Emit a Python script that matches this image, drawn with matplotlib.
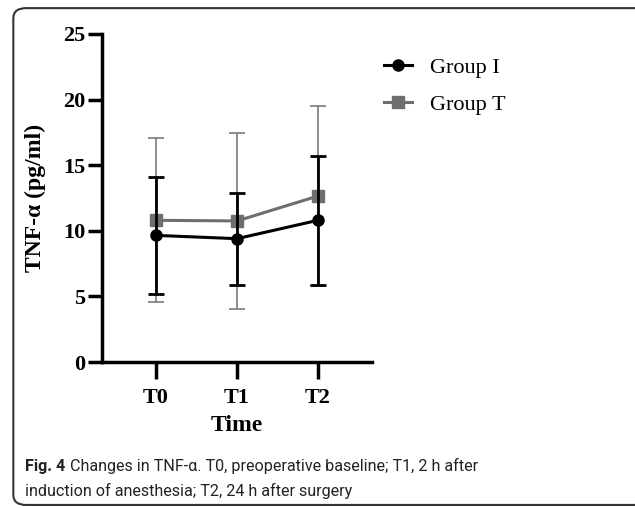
import matplotlib
matplotlib.use("Agg")
import matplotlib.pyplot as plt
from matplotlib.patches import FancyBboxPatch
from matplotlib.lines import Line2D

categories = ["T0", "T1", "T2"]
group_i_mean = [9.65, 9.4, 10.8]
group_i_err = [4.45, 3.5, 4.9]
group_t_mean = [10.8, 10.75, 12.65]
group_t_err = [6.25, 6.7, 6.85]
yticks = [0, 5, 10, 15, 20, 25]

serif = ["Liberation Serif", "DejaVu Serif"]
capfont = ["Roboto", "DejaVu Sans"]

fig = plt.figure(figsize=(6.35, 5.08), dpi=100)
ax = fig.add_axes([0.1606, 0.2874, 0.4252, 0.6457])

x = list(range(len(categories)))
ax.errorbar(x, group_t_mean, yerr=group_t_err, color="#6e6e6e", ecolor="#7a7a7a",
            elinewidth=1.2, capsize=6, capthick=1.2, marker="s", markersize=8,
            linewidth=2.2, label="Group T", zorder=2)
ax.errorbar(x, group_i_mean, yerr=group_i_err, color="black", ecolor="black",
            elinewidth=2, capsize=6, capthick=2, marker="o", markersize=8,
            linewidth=2.2, label="Group I", zorder=3)

ax.set_xlim(-0.667, 2.667)
ax.set_ylim(0, 25)
ax.set_xticks(x)
ax.set_xticklabels(categories)
ax.set_yticks(yticks)
for s in ["top", "right"]:
    ax.spines[s].set_visible(False)
for s in ["left", "bottom"]:
    ax.spines[s].set_linewidth(2.5)
ax.tick_params(axis="both", width=2.5, length=10, direction="out")
ax.tick_params(axis="y", pad=2)
ax.tick_params(axis="x", length=12, pad=7)
for lab in ax.get_xticklabels() + ax.get_yticklabels():
    lab.set_fontfamily(serif)
    lab.set_fontweight("bold")
    lab.set_fontsize(16)
ax.set_xlabel("Time", fontsize=17, fontweight="bold", family=serif, labelpad=5)
ax.set_ylabel("TNF-α (pg/ml)", fontsize=17, fontweight="bold", family=serif, labelpad=12)

h_i = Line2D([], [], color="black", marker="o", markersize=8, linewidth=2.2)
h_t = Line2D([], [], color="#6e6e6e", marker="s", markersize=8, linewidth=2.2)
fig.legend([h_i, h_t], ["Group I", "Group T"], loc="upper left",
           bbox_to_anchor=(0.574, 0.927), frameon=False, handlelength=1.25,
           handletextpad=0.8, labelspacing=0.75, prop={"family": serif, "size": 16})

# Caption
fig.canvas.draw()
r = fig.canvas.get_renderer()
t1 = fig.text(0.04, 0.073, "Fig. 4", fontsize=11.6, fontweight="bold", family=capfont,
              color="#222222", va="baseline")
bb = t1.get_window_extent(renderer=r)
x2 = (bb.x1 + 4) / fig.bbox.width
fig.text(x2, 0.073, "Changes in TNF-α. T0, preoperative baseline; T1, 2 h after",
         fontsize=11.6, family=capfont, color="#222222", va="baseline")
fig.text(0.04, 0.024, "induction of anesthesia; T2, 24 h after surgery",
         fontsize=11.6, family=capfont, color="#222222", va="baseline")

frame = FancyBboxPatch((0.021, 0.006), 1.2, 0.978, boxstyle="round,pad=0,rounding_size=0.02",
                       transform=fig.transFigure, fill=False, edgecolor="#333333",
                       linewidth=1.5, clip_on=False)
fig.patches.append(frame)

fig.savefig("out.png", dpi=100)
